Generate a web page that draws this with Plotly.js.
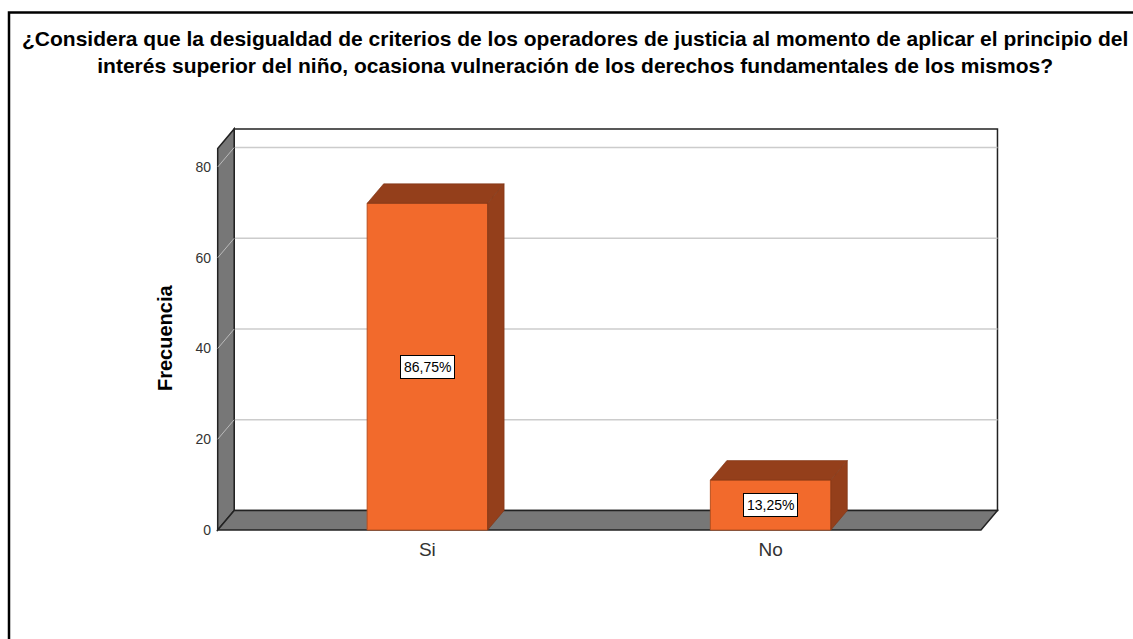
<!DOCTYPE html>
<html><head><meta charset="utf-8">
<script src="https://cdn.plot.ly/plotly-3.0.1.min.js"></script>
<style>html,body{margin:0;padding:0;background:#fff}#chart{width:1133px;height:639px}</style>
</head><body><div id="chart"></div>
<script>
// ---- data ----
const categories = ['Si', 'No'];
const frequencies = [72, 11];
const yTickValues = [0, 20, 40, 60, 80];
const titleLines = [
  '¿Considera que la desigualdad de criterios de los operadores de justicia al momento de aplicar el principio del',
  'interés superior del niño, ocasiona vulneración de los derechos fundamentales de los mismos?'
];
const yAxisTitle = 'Frecuencia';

// ---- geometry / style ----
const W = 1133, H = 639;
const plotL = 212, plotR = 1003, plotT = 122, plotB = 536;
const pxPerCat = 343.2, pxPerUnit = 4.5375;
const frontLeftPx = 217.7, frontBottomPx = 530;
const depthPxX = 16.5, depthPxY = 19.5;
const xFront0 = -0.611, xFront1 = 1.613, yWallTop = 84.1;
const barWidth = 0.351;
const dX = depthPxX / pxPerCat, dY = depthPxY / pxPerUnit;
const xRange0 = xFront0 - (frontLeftPx - plotL) / pxPerCat;
const xRange = [xRange0, xRange0 + (plotR - plotL) / pxPerCat];
const yRange0 = -(plotB - frontBottomPx) / pxPerUnit;
const yRange = [yRange0, yRange0 + (plotB - plotT) / pxPerUnit];
const pw = plotR - plotL, ph = plotB - plotT;
const pxX = px => (px - plotL) / pw;   // pixel -> paper x
const pxY = py => (plotB - py) / ph;   // pixel -> paper y

const ORANGE = '#F26A2C', DARK = '#943F1B', GRAY = '#777777', GRID = '#CCCCCC';
const FONT = '"Liberation Sans", Arial, sans-serif';

const xPos = categories.map((c, i) => i);
const total = frequencies.reduce((a, b) => a + b, 0);
const pctText = frequencies.map(v => (v / total * 100).toFixed(2).replace('.', ',') + '%');

function path(pts) { return 'M' + pts.map(p => p[0] + ',' + p[1]).join(' L') + ' Z'; }

const shapes = [];
// back wall
shapes.push({type: 'path', xref: 'x', yref: 'y', layer: 'below',
  path: path([[xFront0 + dX, dY], [xFront0 + dX, yWallTop + dY], [xFront1 + dX, yWallTop + dY], [xFront1 + dX, dY]]),
  fillcolor: '#FFFFFF', line: {color: '#222', width: 1.5}});
// back gridlines
yTickValues.filter(v => v > 0).forEach(v => {
  shapes.push({type: 'line', xref: 'x', yref: 'y', layer: 'below',
    x0: xFront0 + dX, x1: xFront1 + dX, y0: v + dY, y1: v + dY, line: {color: GRID, width: 1.5}});
});
// left wall
shapes.push({type: 'path', xref: 'x', yref: 'y', layer: 'below',
  path: path([[xFront0, 0], [xFront0, yWallTop], [xFront0 + dX, yWallTop + dY], [xFront0 + dX, dY]]),
  fillcolor: GRAY, line: {color: '#222', width: 1.5}});
// connectors on left wall
yTickValues.filter(v => v > 0).forEach(v => {
  shapes.push({type: 'line', xref: 'x', yref: 'y', layer: 'below',
    x0: xFront0, x1: xFront0 + dX, y0: v, y1: v + dY, line: {color: '#BBBBBB', width: 1}});
});
// floor
shapes.push({type: 'path', xref: 'x', yref: 'y', layer: 'below',
  path: path([[xFront0, 0], [xFront0 + dX, dY], [xFront1 + dX, dY], [xFront1, 0]]),
  fillcolor: GRAY, line: {color: '#222', width: 1.5}});
// outer frame
shapes.push({type: 'rect', xref: 'paper', yref: 'paper', layer: 'above',
  x0: pxX(9), x1: pxX(1150), y0: pxY(660), y1: pxY(12.5),
  line: {color: '#000', width: 2.5}, fillcolor: 'rgba(0,0,0,0)'});

const traces = [];
traces.push({type: 'bar', x: xPos, y: frequencies, width: barWidth,
  marker: {color: ORANGE, line: {color: '#B9501F', width: 1}}, hoverinfo: 'skip'});
xPos.forEach((x, i) => {
  const v = frequencies[i], l = x - barWidth / 2, r = x + barWidth / 2;
  // top face
  traces.push({type: 'scatter', mode: 'lines', fill: 'toself', fillcolor: DARK,
    line: {color: '#7E3414', width: 0.6}, hoverinfo: 'skip',
    x: [l, l + dX, r + dX, r, l], y: [v, v + dY, v + dY, v, v]});
  // side face
  traces.push({type: 'scatter', mode: 'lines', fill: 'toself', fillcolor: DARK,
    line: {color: '#7E3414', width: 0.6}, hoverinfo: 'skip',
    x: [r, r, r + dX, r + dX, r], y: [0, v, v + dY, dY, 0]});
});

const annotations = xPos.map((x, i) => ({
  x: x, y: frequencies[i] / 2, xref: 'x', yref: 'y', text: pctText[i], showarrow: false,
  font: {family: FONT, size: 14, color: '#000'}, bgcolor: '#FFFFFF', bordercolor: '#000',
  borderwidth: 1, borderpad: 3
}));
// title (two lines, one text)
annotations.push({
  xref: 'paper', yref: 'paper', x: pxX(575), y: pxY(52), xanchor: 'center', yanchor: 'middle',
  text: '<b>' + titleLines.join('<br>') + '</b>', showarrow: false,
  font: {family: FONT, size: 21, color: '#000'}
});
// y axis title
annotations.push({xref: 'paper', yref: 'paper', x: pxX(165), y: pxY(338), xanchor: 'center', yanchor: 'middle',
  textangle: -90, text: '<b>' + yAxisTitle + '</b>', showarrow: false,
  font: {family: FONT, size: 20, color: '#000'}});

const layout = {
  width: W, height: H, showlegend: false,
  paper_bgcolor: '#FFFFFF', plot_bgcolor: 'rgba(0,0,0,0)',
  margin: {l: plotL, r: W - plotR, t: plotT, b: H - plotB, pad: 0},
  font: {family: FONT},
  xaxis: {range: xRange, tickvals: xPos, ticktext: categories, showgrid: false, zeroline: false,
    showline: false, ticks: '', tickfont: {family: FONT, size: 19, color: '#333'}, fixedrange: true},
  yaxis: {range: yRange, tickvals: yTickValues, showgrid: false, zeroline: false, showline: false,
    ticks: '', tickfont: {family: FONT, size: 14, color: '#333'}, fixedrange: true},
  shapes: shapes, annotations: annotations, bargap: 0
};
Plotly.newPlot('chart', traces, layout, {displayModeBar: false, staticPlot: true});
</script></body></html>
